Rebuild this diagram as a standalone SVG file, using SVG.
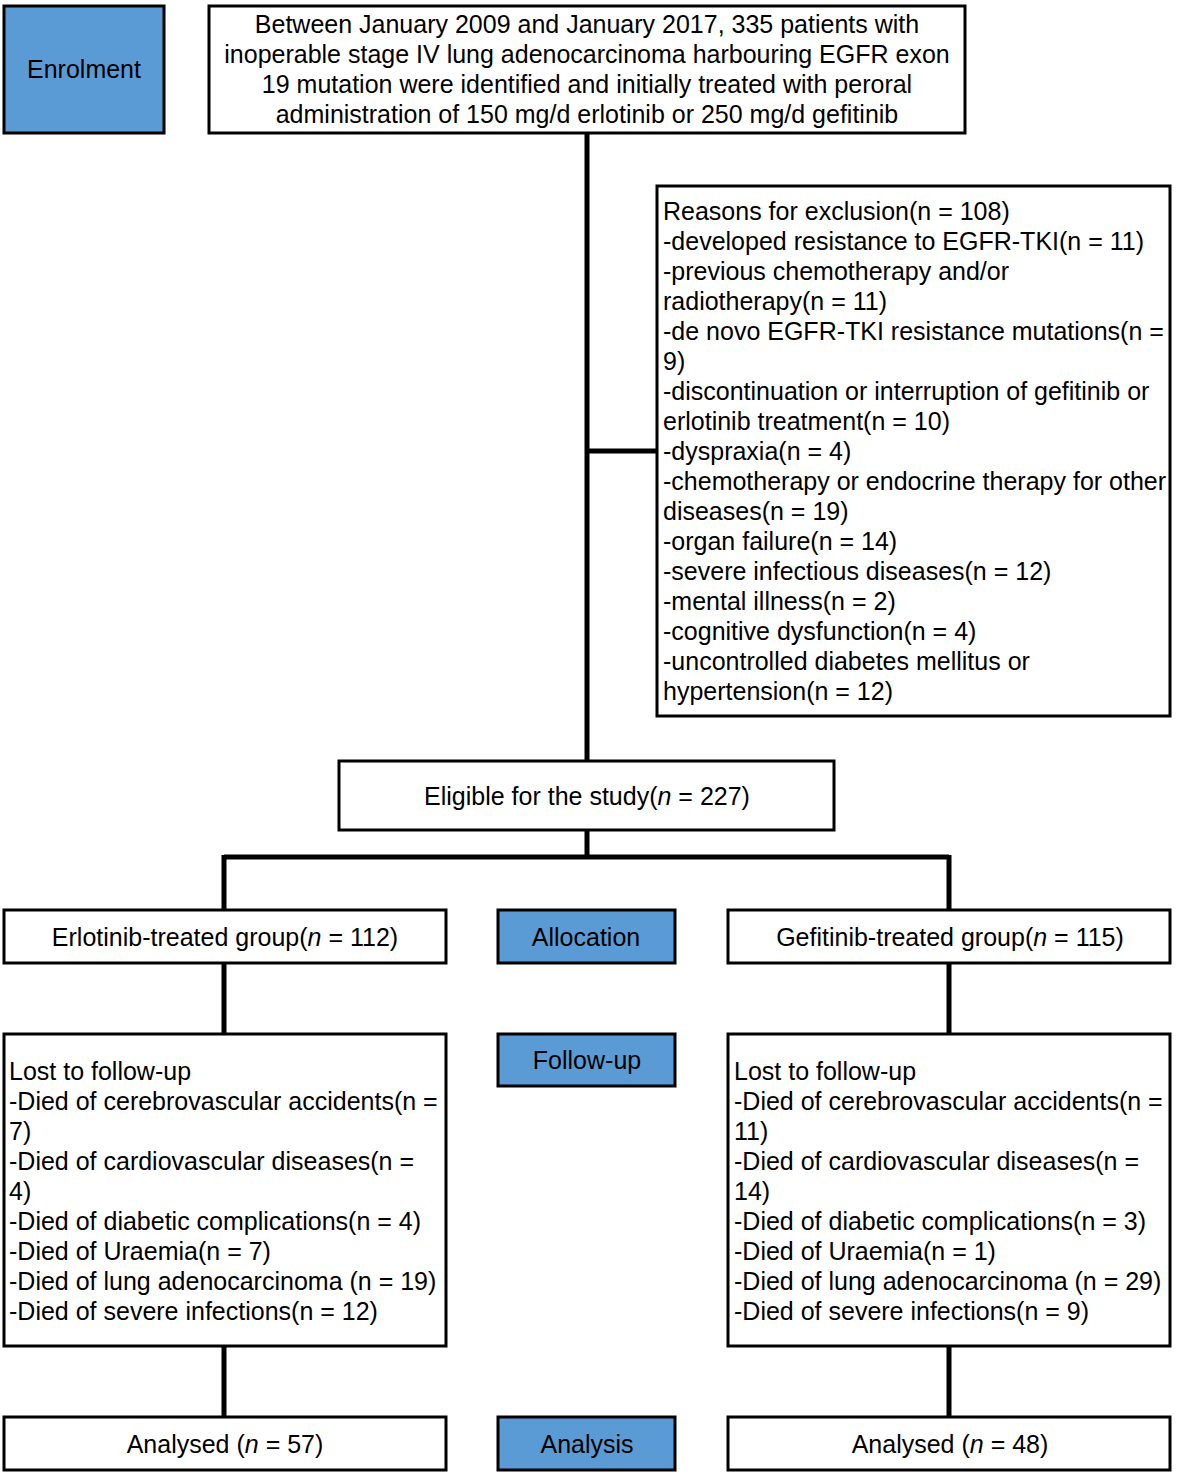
<svg xmlns="http://www.w3.org/2000/svg" width="1181" height="1480" viewBox="0 0 1181 1480">
<style>
.box{fill:#fff;stroke:#000;stroke-width:3}
.lab{fill:#5b9bd5;stroke:#000;stroke-width:3}
.t{font-family:"Liberation Sans",Arial,sans-serif;font-size:25px;fill:#000}
.c{text-anchor:middle}
.con{stroke:#000;stroke-width:5;fill:none}
</style>
<rect width="1181" height="1480" fill="#fff"/>
<g id="connectors">
<path class="con" d="M587 133V760M587 451H657M587 830V857M224 857H949M224 855V910M949 855V910M224 963V1034M949 963V1034M224 1346V1417M949 1346V1417"/>
</g>
<g id="enrolment"><rect class="lab" x="4" y="6" width="160" height="127"/><text class="t c" x="84" y="78">Enrolment</text></g>
<g id="start"><rect class="box" x="209" y="6" width="756" height="127"/>
<text class="t c" x="587" y="33">Between January 2009 and January 2017, 335 patients with</text>
<text class="t c" x="587" y="63">inoperable stage IV lung adenocarcinoma harbouring EGFR exon</text>
<text class="t c" x="587" y="93">19 mutation were identified and initially treated with peroral</text>
<text class="t c" x="587" y="123">administration of 150 mg/d erlotinib or 250 mg/d gefitinib</text></g>
<g id="exclusion"><rect class="box" x="657" y="186" width="513" height="530"/>
<text class="t" x="663" y="220">Reasons for exclusion(n = 108)</text>
<text class="t" x="663" y="250">-developed resistance to EGFR-TKI(n = 11)</text>
<text class="t" x="663" y="280">-previous chemotherapy and/or</text>
<text class="t" x="663" y="310">radiotherapy(n = 11)</text>
<text class="t" x="663" y="340">-de novo EGFR-TKI resistance mutations(n =</text>
<text class="t" x="663" y="370">9)</text>
<text class="t" x="663" y="400">-discontinuation or interruption of gefitinib or</text>
<text class="t" x="663" y="430">erlotinib treatment(n = 10)</text>
<text class="t" x="663" y="460">-dyspraxia(n = 4)</text>
<text class="t" x="663" y="490">-chemotherapy or endocrine therapy for other</text>
<text class="t" x="663" y="520">diseases(n = 19)</text>
<text class="t" x="663" y="550">-organ failure(n = 14)</text>
<text class="t" x="663" y="580">-severe infectious diseases(n = 12)</text>
<text class="t" x="663" y="610">-mental illness(n = 2)</text>
<text class="t" x="663" y="640">-cognitive dysfunction(n = 4)</text>
<text class="t" x="663" y="670">-uncontrolled diabetes mellitus or</text>
<text class="t" x="663" y="700">hypertension(n = 12)</text></g>
<g id="eligible"><rect class="box" x="339" y="761" width="495" height="69"/><text class="t c" x="587" y="805">Eligible for the study(<tspan font-style="italic">n</tspan> = 227)</text></g>
<g id="erlotinib"><rect class="box" x="4" y="910" width="442" height="53"/><text class="t c" x="225" y="946">Erlotinib-treated group(<tspan font-style="italic">n</tspan> = 112)</text></g>
<g id="allocation"><rect class="lab" x="498" y="910" width="177" height="53"/><text class="t c" x="586" y="946">Allocation</text></g>
<g id="gefitinib"><rect class="box" x="728" y="910" width="442" height="53"/><text class="t c" x="950" y="946">Gefitinib-treated group(<tspan font-style="italic">n</tspan> = 115)</text></g>
<g id="lost-left"><rect class="box" x="4" y="1034" width="442" height="312"/>
<text class="t" x="9" y="1080">Lost to follow-up</text>
<text class="t" x="9" y="1110">-Died of cerebrovascular accidents(n =</text>
<text class="t" x="9" y="1140">7)</text>
<text class="t" x="9" y="1170">-Died of cardiovascular diseases(n =</text>
<text class="t" x="9" y="1200">4)</text>
<text class="t" x="9" y="1230">-Died of diabetic complications(n = 4)</text>
<text class="t" x="9" y="1260">-Died of Uraemia(n = 7)</text>
<text class="t" x="9" y="1290">-Died of lung adenocarcinoma (n = 19)</text>
<text class="t" x="9" y="1320">-Died of severe infections(n = 12)</text></g>
<g id="followup"><rect class="lab" x="498" y="1034" width="177" height="52"/><text class="t c" x="587" y="1069">Follow-up</text></g>
<g id="lost-right"><rect class="box" x="728" y="1034" width="442" height="312"/>
<text class="t" x="734" y="1080">Lost to follow-up</text>
<text class="t" x="734" y="1110">-Died of cerebrovascular accidents(n =</text>
<text class="t" x="734" y="1140">11)</text>
<text class="t" x="734" y="1170">-Died of cardiovascular diseases(n =</text>
<text class="t" x="734" y="1200">14)</text>
<text class="t" x="734" y="1230">-Died of diabetic complications(n = 3)</text>
<text class="t" x="734" y="1260">-Died of Uraemia(n = 1)</text>
<text class="t" x="734" y="1290">-Died of lung adenocarcinoma (n = 29)</text>
<text class="t" x="734" y="1320">-Died of severe infections(n = 9)</text></g>
<g id="analysed-left"><rect class="box" x="4" y="1417" width="442" height="53"/><text class="t c" x="225" y="1453">Analysed (<tspan font-style="italic">n</tspan> = 57)</text></g>
<g id="analysis"><rect class="lab" x="498" y="1417" width="177" height="53"/><text class="t c" x="587" y="1453">Analysis</text></g>
<g id="analysed-right"><rect class="box" x="728" y="1417" width="442" height="53"/><text class="t c" x="950" y="1453">Analysed (<tspan font-style="italic">n</tspan> = 48)</text></g>
</svg>
